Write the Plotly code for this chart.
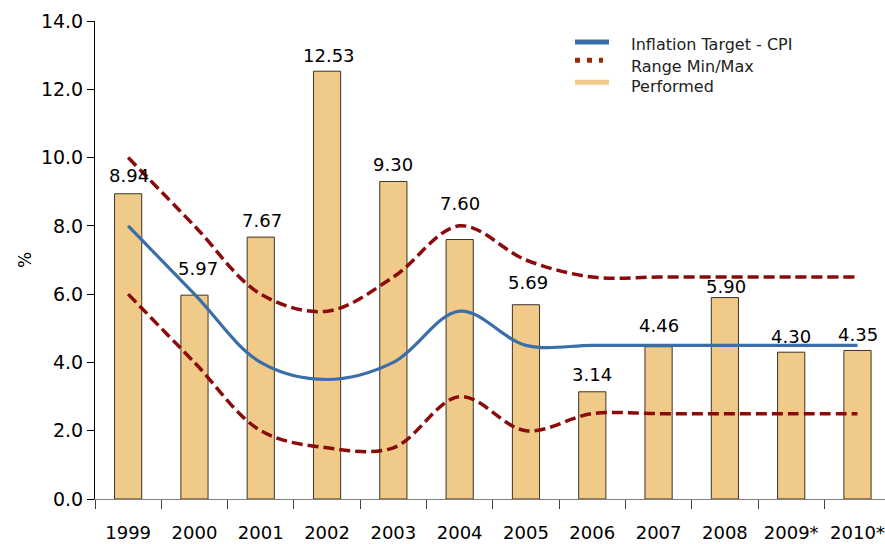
import plotly.graph_objects as go

years = ["1999", "2000", "2001", "2002", "2003", "2004", "2005", "2006", "2007", "2008", "2009*", "2010*"]
performed = [8.94, 5.97, 7.67, 12.53, 9.30, 7.60, 5.69, 3.14, 4.46, 5.90, 4.30, 4.35]
target = [8.0, 6.0, 4.0, 3.5, 4.0, 5.5, 4.5, 4.5, 4.5, 4.5, 4.5, 4.5]
range_max = [10.0, 8.0, 6.0, 5.5, 6.5, 8.0, 7.0, 6.5, 6.5, 6.5, 6.5, 6.5]
range_min = [6.0, 4.0, 2.0, 1.5, 1.5, 3.0, 2.0, 2.5, 2.5, 2.5, 2.5, 2.5]

# label placement (pixel offsets of each value label above its bar top)
label_yshift = [18, 27, 17, 16, 17, 36, 22, 17, 21, 11, 16, 16]
label_xshift = [1, 4, 1, 2, 0, 0, 2, 0, 0, 1, 0, 1]

FONT = "DejaVu Sans"
red = "#8B0A0A"
blue = "#3A6EA8"
tan = "#EFCA88"

fig = go.Figure()
fig.add_trace(go.Bar(
    x=years, y=performed, name="Performed", width=0.41,
    marker=dict(color=tan, line=dict(color="#3d3424", width=1)),
    showlegend=False,
))
dash = "11px,5px"
fig.add_trace(go.Scatter(x=years, y=range_max, mode="lines", showlegend=False,
                         line=dict(color=red, width=3.5, dash=dash, shape="spline", smoothing=1.0)))
fig.add_trace(go.Scatter(x=years, y=range_min, mode="lines", showlegend=False,
                         line=dict(color=red, width=3.5, dash=dash, shape="spline", smoothing=1.0)))
fig.add_trace(go.Scatter(x=years, y=target, mode="lines", showlegend=False,
                         line=dict(color=blue, width=3.2, shape="spline", smoothing=1.0)))

# value labels (x given as category index)
for i, (v, dy, dx) in enumerate(zip(performed, label_yshift, label_xshift)):
    fig.add_annotation(x=i, y=v, xref="x", yref="y", text=f"{v:.2f}", showarrow=False,
                       xanchor="center", yanchor="middle", yshift=dy, xshift=dx,
                       font=dict(size=18, color="black", family=FONT))

# manual legend (paper coordinates)
legend_items = [
    ("Inflation Target - CPI", blue, "solid", 0.956, 0.950, 0.6076, 0.6506),
    ("Range Min/Max", "#9B2A05", "5px,7px", 0.918, 0.904, 0.6076, 0.6430),
    ("Performed", tan, "solid", 0.872, 0.862, 0.6076, 0.6506),
]
for name, col, dsh, ly, ty, x0, x1 in legend_items:
    fig.add_shape(type="line", xref="paper", yref="paper", x0=x0, x1=x1, y0=ly, y1=ly,
                  line=dict(color=col, width=5, dash=dsh))
    fig.add_annotation(xref="paper", yref="paper", x=0.676, y=ty, text=name, showarrow=False,
                       xanchor="left", yanchor="middle",
                       font=dict(size=16, color="#222222", family=FONT))

fig.update_layout(
    width=885, height=544,
    margin=dict(l=95, r=0, t=21, b=45),
    plot_bgcolor="white", paper_bgcolor="white",
    font=dict(family=FONT, color="black"),
    showlegend=False,
    xaxis=dict(type="category", range=[-0.5, 11.415], showline=True, linecolor="#808080", linewidth=1,
               ticks="outside", tickson="boundaries", ticklen=9, tickcolor="#404040",
               tickfont=dict(size=18, family=FONT), ticklabelstandoff=17,
               showgrid=False, automargin=False),
    yaxis=dict(range=[0, 14], tickvals=[0, 2, 4, 6, 8, 10, 12, 14],
               ticktext=["0.0", "2.0", "4.0", "6.0", "8.0", "10.0", "12.0", "14.0"],
               showline=True, linecolor="black", linewidth=1,
               ticks="outside", ticklen=7, tickcolor="black",
               tickfont=dict(size=19, family=FONT), showgrid=False, zeroline=False,
               automargin=False,
               title=dict(text="%", font=dict(size=17), standoff=4)),
)

fig.write_html("out.html", config={"displayModeBar": False},
               post_script="document.body.style.margin='0';")
